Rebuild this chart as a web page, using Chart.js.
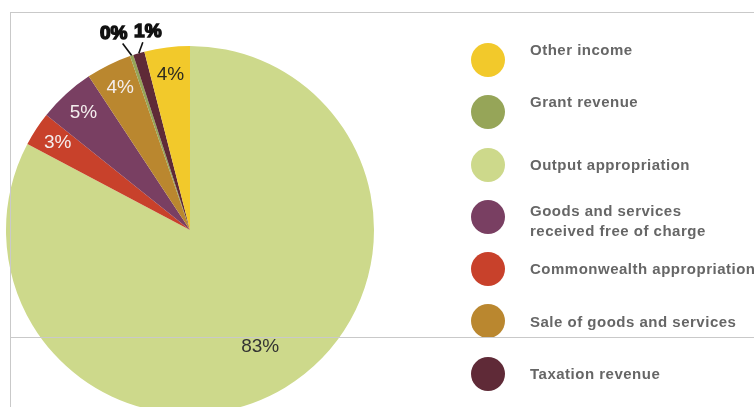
<!DOCTYPE html>
<html>
<head>
<meta charset="utf-8">
<script src="https://cdn.jsdelivr.net/npm/chart.js@4/dist/chart.umd.min.js"></script>
<style>
  html, body { margin: 0; padding: 0; background: #fff; overflow: hidden; }
  body { width: 754px; height: 407px; position: relative; font-family: "Liberation Sans", Arial, sans-serif; }
  #pie { position: absolute; left: 0; top: 0; }
  .rule { position: absolute; background: #c9c9c9; pointer-events: none; }
  #legend { position: absolute; left: 471px; top: 34px; }
  .item { position: relative; height: 52.3px; }
  .dot { position: absolute; left: 0; top: 9px; width: 34px; height: 34px; border-radius: 50%; }
  .txt { position: absolute; left: 59px; top: 50%; transform: translateY(-50%); white-space: nowrap;
         font-size: 15px; font-weight: bold; color: #666; line-height: 20px; letter-spacing: 0.5px; filter: blur(0.4px); }
  .item:nth-child(1) .txt, .item:nth-child(2) .txt { margin-top: -10px; }
  .item:nth-child(4) .txt { margin-top: 4px; }
</style>
</head>
<body>
<canvas id="pie" width="400" height="420"></canvas>
<div id="legend"></div>
<div class="rule" style="left:10px;top:12px;width:744px;height:1px"></div>
<div class="rule" style="left:10px;top:12px;width:1px;height:395px"></div>
<div class="rule" style="left:10px;top:337px;width:744px;height:1px"></div>
<script>
// revenue shares, clockwise from 12 o'clock
const categories = ['Output appropriation', 'Commonwealth appropriation', 'Goods and services received free of charge',
  'Sale of goods and services', 'Grant revenue', 'Taxation revenue', 'Other income']
const shares = [83, 3, 5, 4, 0.3, 1, 4]
const colours = ['#cdd98b', '#c8412b', '#793f62', '#ba872f', '#96a558', '#5f2a37', '#f2c92b']

// legend runs in its own order
const legendOrder = ['Other income', 'Grant revenue', 'Output appropriation', 'Goods and services received free of charge',
  'Commonwealth appropriation', 'Sale of goods and services', 'Taxation revenue']
const legendLines = [['Other income'], ['Grant revenue'], ['Output appropriation'], ['Goods and services', 'received free of charge'],
  ['Commonwealth appropriation'], ['Sale of goods and services'], ['Taxation revenue']]

const legend = document.getElementById('legend')
legendOrder.forEach((name, i) => {
  const item = document.createElement('div')
  item.className = 'item'
  item.innerHTML = '<div class="dot" style="background:' + colours[categories.indexOf(name)] + '"></div>' +
    '<div class="txt">' + legendLines[i].join('<br>') + '</div>'
  legend.appendChild(item)
})

// label styling per slice: radial position (fraction of radius) or an outside offset with a leader
const labelStyle = [
  { r: 0.74, colour: '#333' },
  { r: 0.86, colour: '#f4eeee' },
  { r: 0.86, colour: '#f4eeee' },
  { r: 0.86, colour: '#f4eeee' },
  { out: [-18, -22] },
  { out: [9, -21] },
  { r: 0.85, colour: '#2d2a20' }
]

const sliceLabels = {
  id: 'sliceLabels',
  afterDatasetsDraw(chart) {
    const ctx = chart.ctx
    const arcs = chart.getDatasetMeta(0).data
    ctx.save()
    ctx.textAlign = 'center'
    ctx.textBaseline = 'middle'
    arcs.forEach((arc, i) => {
      const p = arc.getProps(['x', 'y', 'startAngle', 'endAngle', 'outerRadius'], true)
      const mid = (p.startAngle + p.endAngle) / 2
      const text = Math.round(shares[i]) + '%'
      const s = labelStyle[i]
      if (s.out) {
        const rx = p.x + Math.cos(mid) * p.outerRadius
        const ry = p.y + Math.sin(mid) * p.outerRadius
        const lx = rx + s.out[0]
        const ly = ry + s.out[1]
        ctx.strokeStyle = '#111'
        ctx.lineWidth = 1.6
        ctx.beginPath()
        ctx.moveTo(rx, ry)
        ctx.lineTo(lx + (s.out[0] < 0 ? 9 : -5), ly + 10)
        ctx.stroke()
        ctx.font = 'bold 19px "Liberation Sans", Arial, sans-serif'
        ctx.fillStyle = '#111'
        ctx.lineWidth = 1.5
        ctx.strokeText(text, lx, ly)
        ctx.fillText(text, lx, ly)
      } else {
        ctx.font = '19px "Liberation Sans", Arial, sans-serif'
        ctx.fillStyle = s.colour
        ctx.fillText(text, p.x + Math.cos(mid) * p.outerRadius * s.r, p.y + Math.sin(mid) * p.outerRadius * s.r)
      }
    })
    ctx.restore()
  }
}

new Chart(document.getElementById('pie'), {
  type: 'pie',
  data: {
    labels: categories,
    datasets: [{ data: shares, backgroundColor: colours, borderWidth: 0 }]
  },
  options: {
    responsive: false,
    animation: false,
    devicePixelRatio: 1,
    layout: { padding: { left: 6, top: 46, right: 26, bottom: 6 } },
    plugins: { legend: { display: false }, tooltip: { enabled: false } }
  },
  plugins: [sliceLabels]
})
</script>
</body>
</html>
